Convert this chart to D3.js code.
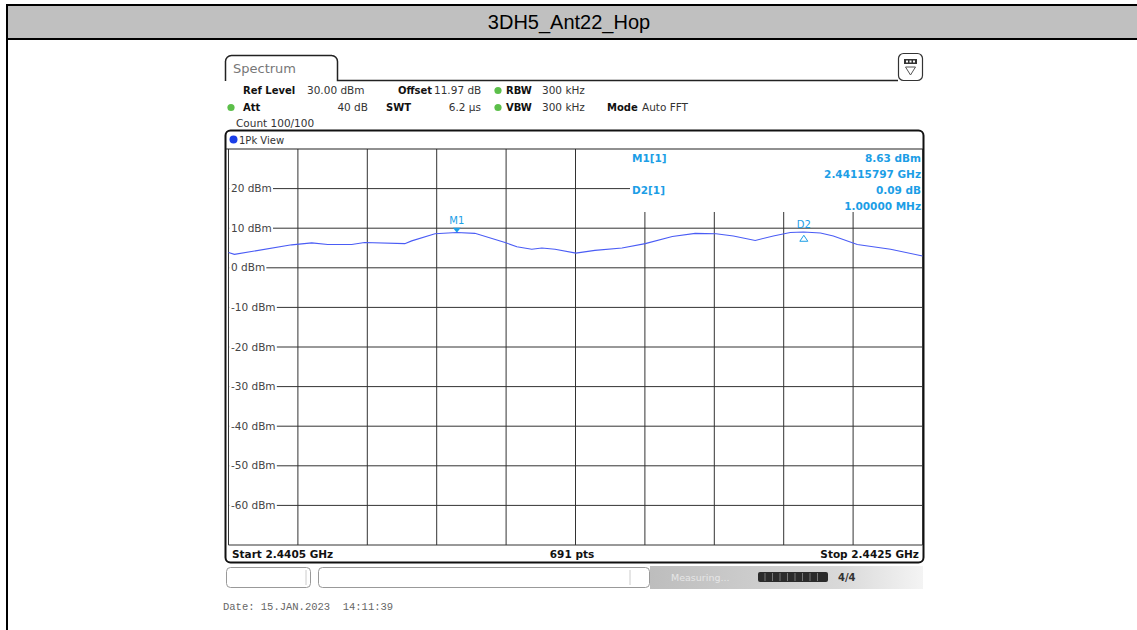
<!DOCTYPE html>
<html>
<head>
<meta charset="utf-8">
<script src="https://cdn.jsdelivr.net/npm/d3@7"></script>
<style>
  body { margin: 0; background: #fff; }
  svg { display: block; }
</style>
</head>
<body>
<div id="chart"></div>
<script>
// trace (1Pk View, 691 pts)
let freqMHz = [2440.500, 2440.517, 2440.682, 2440.740, 2440.786, 2440.855, 2440.892, 2441.008,
  2441.028, 2441.095, 2441.158, 2441.210, 2441.297, 2441.331, 2441.374, 2441.403, 2441.441,
  2441.501, 2441.556, 2441.634, 2441.701, 2441.779, 2441.845, 2441.905, 2441.955, 2442.018,
  2442.070, 2442.119, 2442.157, 2442.206, 2442.243, 2442.312, 2442.408, 2442.500];
let levelDbm = [3.85, 3.4, 5.8, 6.3, 5.9, 5.9, 6.4, 6.1, 6.8, 8.6, 8.9, 8.7, 6.4, 5.3, 4.7, 5.0, 4.7,
  3.7, 4.4, 5.0, 6.1, 7.9, 8.7, 8.6, 8.05, 6.9, 8.05, 8.9, 9.05, 8.8, 8.05, 5.9, 4.7, 3.0];

let markerNames = ["M1", "D2"];
let markerFreq = [2441.15797, 2442.15797];
let markerLevel = [8.63, 8.72];

// 10 divisions on each axis
let xGridMHz = [2440.5, 2440.7, 2440.9, 2441.1, 2441.3, 2441.5, 2441.7, 2441.9, 2442.1, 2442.3, 2442.5];
let yTickLabels = ["30 dBm", "20 dBm", "10 dBm", "0 dBm", "-10 dBm", "-20 dBm", "-30 dBm",
  "-40 dBm", "-50 dBm", "-60 dBm", "-70 dBm"];

let svgWidth = 1137;
let svgHeight = 630;

let svg = d3.select("#chart")
  .append("svg")
  .attr("width", svgWidth)
  .attr("height", svgHeight);

let font = "'DejaVu Sans', Verdana, sans-serif";
let blue = "#1c9ee6";

// outer page frame + title band
svg.append("rect").attr("x", 7).attr("y", 5).attr("width", svgWidth).attr("height", 34)
  .attr("fill", "#c0c0c0");
svg.append("line").attr("x1", 6).attr("x2", svgWidth).attr("y1", 5).attr("y2", 5)
  .attr("stroke", "#000").attr("stroke-width", 2);
svg.append("line").attr("x1", 6).attr("x2", svgWidth).attr("y1", 39).attr("y2", 39)
  .attr("stroke", "#000").attr("stroke-width", 2);
svg.append("line").attr("x1", 7).attr("x2", 7).attr("y1", 4).attr("y2", svgHeight)
  .attr("stroke", "#000").attr("stroke-width", 2);
svg.append("text")
  .attr("x", 569).attr("y", 29)
  .attr("text-anchor", "middle")
  .style("font-family", "'Liberation Sans', Arial, sans-serif")
  .style("font-size", "20px")
  .attr("fill", "#000")
  .text("3DH5_Ant22_Hop");

// Spectrum tab
let tab = d3.path();
tab.moveTo(225.5, 81);
tab.lineTo(225.5, 61);
tab.arcTo(225.5, 55.5, 231, 55.5, 6);
tab.lineTo(332, 55.5);
tab.arcTo(337.5, 55.5, 337.5, 61, 6);
tab.lineTo(337.5, 80.5);
tab.lineTo(898, 80.5);
svg.append("path").attr("d", tab.toString()).attr("fill", "none")
  .attr("stroke", "#222").attr("stroke-width", 1.5);
svg.append("text").attr("x", 233).attr("y", 73)
  .style("font-family", font).style("font-size", "13px").attr("fill", "#777")
  .text("Spectrum");

// small icon top right
svg.append("rect").attr("x", 898.5).attr("y", 53.5).attr("width", 24).attr("height", 27).attr("rx", 5)
  .attr("fill", "#fff").attr("stroke", "#333").attr("stroke-width", 1.2);
svg.append("rect").attr("x", 904).attr("y", 59).attr("width", 13).attr("height", 5).attr("fill", "#333");
svg.selectAll(".icoDot").data([906, 909.5, 913]).enter().append("rect")
  .attr("x", d => d).attr("y", 60.5).attr("width", 2).attr("height", 2).attr("fill", "#fff");
svg.append("path").attr("d", "M905.5,67 L915.5,67 L910.5,75 Z").attr("fill", "none")
  .attr("stroke", "#555").attr("stroke-width", 1);

// settings block
function txt(x, y, s, bold, anchor) {
  return svg.append("text").attr("x", x).attr("y", y)
    .attr("text-anchor", anchor || "start")
    .style("font-family", font).style("font-size", bold ? "10px" : "10.5px")
    .style("font-weight", bold ? "bold" : "normal")
    .attr("fill", bold ? "#111" : "#333")
    .text(s);
}
function led(x, y) {
  svg.append("circle").attr("cx", x).attr("cy", y).attr("r", 3.6).attr("fill", "#5cbf4a");
}
txt(243, 94, "Ref Level", true);
txt(307, 94, "30.00 dBm");
txt(398, 94, "Offset", true);
txt(434, 94, "11.97 dB");
led(498, 90.5);
txt(506, 94, "RBW", true);
txt(542, 94, "300 kHz");
led(231, 107.5);
txt(243, 111, "Att", true);
txt(368, 111, "40 dB", false, "end");
txt(386, 111, "SWT", true);
txt(481, 111, "6.2 µs", false, "end");
led(498, 107.5);
txt(506, 111, "VBW", true);
txt(542, 111, "300 kHz");
txt(607, 111, "Mode", true);
txt(642, 111, "Auto FFT");
txt(236, 127, "Count 100/100");

// scales
let xScale = d3.scaleLinear().domain([2440.5, 2442.5]).range([228.5, 922.5]);
let yScale = d3.scaleLinear().domain([-70, 30]).range([545, 149]);

// plot frame
svg.append("rect").attr("x", 225.5).attr("y", 130.5).attr("width", 698).attr("height", 432)
  .attr("rx", 5).attr("fill", "#fff").attr("stroke", "#111").attr("stroke-width", 2);
svg.append("circle").attr("cx", 233.5).attr("cy", 139.5).attr("r", 4).attr("fill", "#1a3ee8");
svg.append("text").attr("x", 239).attr("y", 143.5)
  .style("font-family", font).style("font-size", "10px").attr("fill", "#333")
  .text("1Pk View");

let grid = svg.append("g");

// vertical grid, interrupted at top right by the marker table
grid.selectAll(".vgrid").data(xGridMHz).enter().append("line")
  .attr("x1", d => xScale(d)).attr("x2", d => xScale(d))
  .attr("y1", d => (d > 2441.55 && d < 2442.45) ? 212 : 149)
  .attr("y2", 545)
  .attr("stroke", "#333").attr("stroke-width", 1);

// horizontal grid with the dBm labels sitting on it
let yTicks = yScale.ticks(10);
grid.selectAll(".hgrid").data(yTicks).enter().append("line")
  .attr("x1", d => d === 30 ? 226 : 228.5)
  .attr("x2", d => d === 20 ? 630 : (d === 30 ? 923 : 922.5))
  .attr("y1", d => yScale(d)).attr("y2", d => yScale(d))
  .attr("stroke", d => d === 30 ? "#222" : "#333")
  .attr("stroke-width", d => d === 30 ? 1.2 : 1);

let labelG = svg.append("g");
yTicks.forEach(function(d, i) {
  if (d === 30 || d === -70) return;
  let lab = yTickLabels[yTickLabels.length - 1 - i];
  let t = labelG.append("text")
    .attr("x", 231).attr("y", yScale(d) + 3.5)
    .style("font-family", font).style("font-size", "10.5px").attr("fill", "#444")
    .text(lab);
  let w = t.node().getComputedTextLength();
  labelG.insert("rect", "text")
    .attr("x", 229.2).attr("y", yScale(d) - 6).attr("width", w + 3).attr("height", 12)
    .attr("fill", "#fff");
});

// trace
let traceData = freqMHz.map((f, i) => ({ f: f, v: levelDbm[i] }));
let line = d3.line().x(d => xScale(d.f)).y(d => yScale(d.v));
svg.append("path").datum(traceData)
  .attr("d", line)
  .attr("fill", "none")
  .attr("stroke", "#4a5cf5")
  .attr("stroke-width", 1.1);

// markers
let mx1 = xScale(markerFreq[0]), my1 = yScale(markerLevel[0]);
svg.append("path")
  .attr("d", `M${mx1 - 4},${my1 - 6} L${mx1 + 4},${my1 - 6} L${mx1},${my1 - 1} Z`)
  .attr("fill", blue);
svg.append("text").attr("x", mx1).attr("y", my1 - 10).attr("text-anchor", "middle")
  .style("font-family", font).style("font-size", "10px").attr("fill", blue)
  .text(markerNames[0]);

let mx2 = xScale(markerFreq[1]), my2 = yScale(markerLevel[1]);
svg.append("path")
  .attr("d", `M${mx2 - 4},${my2 + 8} L${mx2 + 4},${my2 + 8} L${mx2},${my2 + 2} Z`)
  .attr("fill", "none").attr("stroke", blue).attr("stroke-width", 1);
svg.append("text").attr("x", mx2).attr("y", my2 - 5).attr("text-anchor", "middle")
  .style("font-family", font).style("font-size", "10px").attr("fill", blue)
  .text(markerNames[1]);

// marker table
function btxt(x, y, s, anchor) {
  svg.append("text").attr("x", x).attr("y", y).attr("text-anchor", anchor || "start")
    .style("font-family", font).style("font-size", "10.5px").style("font-weight", "bold")
    .attr("fill", blue).text(s);
}
btxt(632, 162, "M1[1]");
btxt(921, 162, markerLevel[0].toFixed(2) + " dBm", "end");
btxt(921, 178, "2.44115797 GHz", "end");
btxt(632, 194, "D2[1]");
btxt(921, 194, "0.09 dB", "end");
btxt(921, 210, "1.00000 MHz", "end");

// bottom row
function bottom(x, s, anchor) {
  svg.append("text").attr("x", x).attr("y", 558).attr("text-anchor", anchor)
    .style("font-family", font).style("font-size", "10.5px").style("font-weight", "bold")
    .attr("fill", "#111").text(s);
}
bottom(232, "Start " + (xScale.domain()[0] / 1000).toFixed(4) + " GHz", "start");
bottom(572, "691 pts", "middle");
bottom(919, "Stop " + (xScale.domain()[1] / 1000).toFixed(4) + " GHz", "end");

// status bar
let grad = svg.append("defs").append("linearGradient").attr("id", "sb")
  .attr("x1", 0).attr("x2", 1).attr("y1", 0).attr("y2", 0);
grad.append("stop").attr("offset", "0%").attr("stop-color", "#bdbdbd");
grad.append("stop").attr("offset", "70%").attr("stop-color", "#d9d9d9");
grad.append("stop").attr("offset", "100%").attr("stop-color", "#f4f4f4");
svg.append("rect").attr("x", 650).attr("y", 566).attr("width", 273).attr("height", 23)
  .attr("fill", "url(#sb)");
svg.append("rect").attr("x", 226.5).attr("y", 567.5).attr("width", 84).attr("height", 20).attr("rx", 4)
  .attr("fill", "#fff").attr("stroke", "#999");
svg.append("line").attr("x1", 306).attr("x2", 306).attr("y1", 570).attr("y2", 585).attr("stroke", "#ccc");
svg.append("rect").attr("x", 318.5).attr("y", 567.5).attr("width", 331).attr("height", 20).attr("rx", 4)
  .attr("fill", "#fff").attr("stroke", "#999");
svg.append("line").attr("x1", 630).attr("x2", 630).attr("y1", 570).attr("y2", 585).attr("stroke", "#ccc");
svg.append("text").attr("x", 671).attr("y", 581)
  .style("font-family", font).style("font-size", "9.5px").attr("fill", "#e6e6e6")
  .text("Measuring...");
svg.append("rect").attr("x", 758).attr("y", 572).attr("width", 70).attr("height", 10).attr("rx", 2)
  .attr("fill", "#2b2b2b");
svg.selectAll(".seg").data(d3.range(8)).enter().append("line")
  .attr("x1", d => 765 + d * 7.5).attr("x2", d => 765 + d * 7.5)
  .attr("y1", 573).attr("y2", 581).attr("stroke", "#777").attr("stroke-width", 1);
svg.append("text").attr("x", 838).attr("y", 581)
  .style("font-family", font).style("font-size", "10px").style("font-weight", "bold")
  .attr("fill", "#333").text("4/4");

// date stamp
svg.append("text").attr("x", 223).attr("y", 610)
  .style("font-family", "'Liberation Mono', 'Courier New', monospace")
  .style("font-size", "10.5px").attr("fill", "#666")
  .attr("xml:space", "preserve")
  .text("Date: 15.JAN.2023  14:11:39");
</script>
</body>
</html>
